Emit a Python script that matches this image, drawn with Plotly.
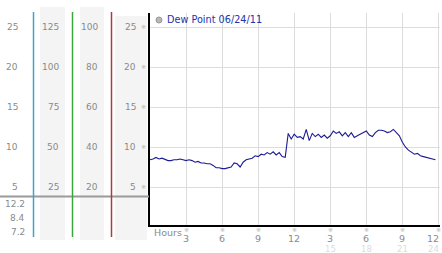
import plotly.graph_objects as go

# ---- data ----
hours = [i * 0.25 for i in range(96)]
dew_point = [
    8.4, 8.5, 8.7, 8.5, 8.6, 8.4, 8.3, 8.3, 8.4, 8.4, 8.5, 8.4,
    8.3, 8.4, 8.3, 8.1, 8.2, 8.0, 8.0, 7.9, 7.9, 7.7, 7.4, 7.4,
    7.3, 7.3, 7.4, 7.5, 8.0, 7.9, 7.5, 8.1, 8.4, 8.5, 8.6, 8.9,
    8.8, 9.1, 9.0, 9.3, 9.1, 9.4, 9.0, 9.3, 8.8, 8.7, 11.7, 11.0,
    11.6, 11.2, 11.3, 11.0, 12.2, 10.8, 11.7, 11.3, 11.6, 11.2, 11.5, 11.1,
    11.4, 12.0, 11.7, 11.9, 11.4, 11.8, 11.3, 11.8, 11.2, 11.4, 11.6, 11.8,
    12.0, 11.5, 11.3, 11.8, 12.1, 12.1, 12.0, 11.8, 11.9, 12.2, 11.8, 11.4,
    10.6, 10.0, 9.6, 9.4, 9.1, 9.2, 8.9, 8.8, 8.7, 8.6, 8.5, 8.4,
]
series_name = "Dew Point 06/24/11"
x_tick_vals = [3, 6, 9, 12, 15, 18, 21, 24]
x_tick_labels = ["3", "6", "9", "12", "3", "6", "9", "12"]
x_tick_labels_24h = ["", "", "", "", "15", "18", "21", "24"]
y_tick_vals = [5, 10, 15, 20, 25]
col1_labels = ["5", "10", "15", "20", "25"]
col2_labels = ["25", "50", "75", "100", "125"]
col3_labels = ["20", "40", "60", "80", "100"]
col4_labels = ["5", "10", "15", "20", "25"]
stats_labels = ["12.2", "8.4", "7.2"]

W, H = 442, 253
def px(x):
    return x / W
def py(y):
    return 1 - y / H

FONT = "DejaVu Sans"
GRAY = "#8a8a8a"

fig = go.Figure()
fig.add_trace(go.Scatter(x=hours, y=dew_point, mode="lines",
                         line=dict(color="#1c1c94", width=1.1),
                         showlegend=False, hoverinfo="skip"))

shapes = []
annotations = []

# gray column backgrounds
for x0, x1, y0, y1 in [(40, 65, 7, 240), (80, 104, 7, 240), (115, 147, 16, 240)]:
    shapes.append(dict(type="rect", xref="paper", yref="paper",
                       x0=px(x0), x1=px(x1), y0=py(y1), y1=py(y0),
                       fillcolor="#f4f4f4", line=dict(width=0), layer="below"))

# horizontal separator
shapes.append(dict(type="line", xref="paper", yref="paper",
                   x0=px(0), x1=px(149), y0=py(196.5), y1=py(196.5),
                   line=dict(color="#9a9a9a", width=2)))

# coloured vertical lines
for xv, col in [(33.5, "#3aa6c8"), (72.5, "#3aa63a"), (111.5, "#b03a3a")]:
    shapes.append(dict(type="line", xref="paper", yref="paper",
                       x0=px(xv), x1=px(xv), y0=py(237), y1=py(12),
                       line=dict(color=col, width=1.5)))

# value -> pixel y for left labels
def vy(v):
    return 227 - v * 8

def label(text, x, y, color=GRAY, size=9, anchor="right"):
    annotations.append(dict(text=text, xref="paper", yref="paper",
                            x=px(x), y=py(y), xanchor=anchor, yanchor="middle",
                            showarrow=False, font=dict(family=FONT, size=size, color=color)))

for v, a, b, c, d in zip(y_tick_vals, col1_labels, col2_labels, col3_labels, col4_labels):
    yy = vy(v) - 0.5
    label(a, 20, yy)
    label(b, 60.5, yy)
    label(c, 100, yy)
    label(d, 138, yy)
    label("※", 148, yy, color="#b0b0b0", size=6)

for t, yy in zip(stats_labels, [204, 218, 232]):
    label(t, 27, yy)

# x tick labels
last = x_tick_vals[-1]
for xv, t1, t2 in zip(x_tick_vals, x_tick_labels, x_tick_labels_24h):
    annotations.append(dict(text="※", xref="x", yref="paper", x=xv, y=py(229.5),
                            xanchor="center", yanchor="middle", showarrow=False,
                            font=dict(family=FONT, size=6, color="#b0b0b0")))
    if xv == last:
        xa, xpos, xref = "right", px(441), "paper"
    else:
        xa, xpos, xref = "center", xv, "x"
    annotations.append(dict(text=t1, xref=xref, yref="paper", x=xpos, y=py(238),
                            xanchor=xa, yanchor="middle", showarrow=False,
                            font=dict(family=FONT, size=9.5, color=GRAY)))
    if t2:
        annotations.append(dict(text=t2, xref=xref, yref="paper", x=xpos, y=py(248.6),
                                xanchor=xa, yanchor="middle", showarrow=False,
                                font=dict(family=FONT, size=8.5, color="#dcdcdc")))
label("Hours", 152, 232, anchor="left", size=9.5)

# legend
shapes.append(dict(type="circle", xref="paper", yref="paper",
                   x0=px(156), x1=px(162), y0=py(23), y1=py(17),
                   fillcolor="#b8b8b8", line=dict(color="#999999", width=1)))
label(series_name, 164.5, 20, color="#2233aa", size=9.7, anchor="left")

fig.update_layout(
    width=W, height=H, margin=dict(l=0, r=0, t=0, b=0),
    paper_bgcolor="white", plot_bgcolor="white",
    shapes=shapes, annotations=annotations, showlegend=False,
    xaxis=dict(domain=[px(150), px(440)], range=[0, 24.13],
               tickvals=x_tick_vals, showticklabels=False, ticks="",
               showgrid=True, gridcolor="#dcdcdc", gridwidth=1,
               showline=True, linecolor="black", linewidth=2, zeroline=False,
               fixedrange=True),
    yaxis=dict(domain=[py(225), py(13)], range=[0.25, 26.75],
               tickvals=y_tick_vals, showticklabels=False, ticks="",
               showgrid=True, gridcolor="#dcdcdc", gridwidth=1,
               showline=True, linecolor="black", linewidth=2, zeroline=False,
               fixedrange=True),
)

fig.write_html("out.html", config={"displayModeBar": False})
